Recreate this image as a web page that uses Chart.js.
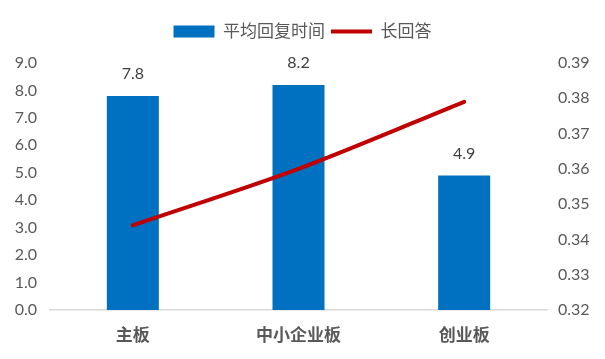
<!DOCTYPE html>
<html>
<head>
<meta charset="utf-8">
<script src="https://cdn.jsdelivr.net/npm/chart.js@4/dist/chart.umd.min.js"></script>
<style>
  html, body { margin: 0; padding: 0; background: #fff; }
  #wrap { width: 605px; height: 359px; }
</style>
</head>
<body>
<div id="wrap"><canvas id="chart"></canvas></div>
<script>
// data
var kategorie = ["主板", "中小企业板", "创业板"];
var casOdpovede = [7.8, 8.2, 4.9];      // 平均回复时间
var dlheOdpovede = [0.344, 0.360, 0.379]; // 长回答
var nazvy = ["平均回复时间", "长回答"];

const SIVA = "#595959";
const PISMO = 'Lato, "Noto Sans CJK SC", sans-serif';

// popisky nad stlpcami
var popisky = {
    id: "popisky",
    afterDatasetsDraw: function (chart) {
        var ctx = chart.ctx;
        var meta = chart.getDatasetMeta(1);
        ctx.save();
        ctx.fillStyle = "#404040";
        ctx.font = "16px " + PISMO;
        ctx.textAlign = "center";
        ctx.textBaseline = "middle";
        meta.data.forEach(function (bar, i) {
            ctx.fillText(casOdpovede[i].toFixed(1), bar.x, bar.y - 22);
        });
        ctx.restore();
    }
};

// pevna vyska legendy
var vyskaLegendy = {
    id: "vyskaLegendy",
    beforeInit: function (chart) {
        var fit = chart.legend.fit;
        chart.legend.fit = function () {
            fit.bind(chart.legend)();
            this.height = 46;
        };
    }
};

new Chart(document.getElementById("chart"), {
    data: {
        labels: kategorie,
        datasets: [{
            type: "line",
            label: nazvy[1],
            data: dlheOdpovede,
            yAxisID: "y2",
            borderColor: "#C00000",
            backgroundColor: "#C00000",
            borderWidth: 4,
            pointRadius: 0,
            pointStyle: "line",
            tension: 0.3,
            borderCapStyle: "round",
            order: 0
        }, {
            type: "bar",
            label: nazvy[0],
            data: casOdpovede,
            yAxisID: "y",
            backgroundColor: "#0070C0",
            borderWidth: 0,
            pointStyle: "rect",
            categoryPercentage: 1,
            barPercentage: 0.314,
            order: 1
        }]
    },
    options: {
        responsive: true,
        maintainAspectRatio: false,
        animation: false,
        layout: { padding: { top: 17, left: 0, right: 0, bottom: 0 } },
        plugins: {
            legend: {
                position: "top",
                reverse: true,
                labels: {
                    usePointStyle: true,
                    pointStyleWidth: 41,
                    boxWidth: 41,
                    boxHeight: 12,
                    padding: 6,
                    color: SIVA,
                    font: { size: 17, family: PISMO }
                }
            },
            tooltip: { enabled: false }
        },
        scales: {
            x: {
                grid: { display: false, drawTicks: false },
                border: { display: true, color: "#D9D9D9", width: 1.5 },
                ticks: {
                    color: SIVA,
                    padding: 14,
                    font: { size: 17, weight: "bold", family: '"Noto Sans CJK SC", sans-serif' }
                },
                afterFit: function (s) { s.height = 49; }
            },
            y: {
                position: "left",
                min: 0,
                max: 9,
                grid: { display: false, drawTicks: false },
                border: { display: false },
                ticks: {
                    stepSize: 1,
                    color: SIVA,
                    padding: 13,
                    font: { size: 16, family: PISMO },
                    callback: function (v) { return v.toFixed(1); }
                },
                afterFit: function (s) { s.width = 50; }
            },
            y2: {
                position: "right",
                min: 0.32,
                max: 0.39,
                grid: { display: false, drawTicks: false },
                border: { display: false },
                ticks: {
                    stepSize: 0.01,
                    color: SIVA,
                    padding: 11,
                    font: { size: 16, family: PISMO },
                    callback: function (v) { return v.toFixed(2); }
                },
                afterFit: function (s) { s.width = 58; }
            }
        }
    },
    plugins: [popisky, vyskaLegendy]
});
</script>
</body>
</html>
